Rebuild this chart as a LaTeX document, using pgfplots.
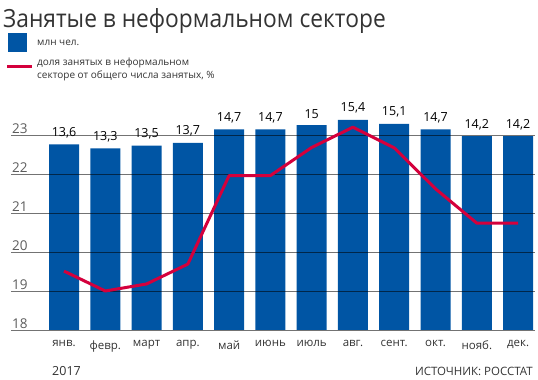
\documentclass[border=0pt]{standalone}
\usepackage{pgfplots}
\pgfplotsset{compat=1.18}
\usepackage{fontspec}
\setmainfont{Open Sans}
\definecolor{barblue}{HTML}{0055A4}
\definecolor{linered}{HTML}{D4003C}
\definecolor{txt}{HTML}{333333}
\begin{document}
\begin{tikzpicture}[x=1pt,y=1pt]
\useasboundingbox (0,0) rectangle (538,380);
% bars
\begin{axis}[
  at={(11pt,50pt)}, anchor=south west,
  scale only axis, width=524pt, height=218.4pt,
  xmin=-1.284, xmax=11.41, ymin=0, ymax=16,
  hide axis, clip=false,
  ybar, bar width=30pt,
  nodes near coords,
  nodes near coords style={font=\fontsize{12.5}{14}\selectfont, text=black, anchor=south, yshift=3pt,
    /pgf/number format/.cd, use comma, assume math mode=true},
]
\addplot[fill=barblue, draw=none] coordinates {
(0,13.6) (1,13.3) (2,13.5) (3,13.7) (4,14.7) (5,14.7)
(6,15) (7,15.4) (8,15.1) (9,14.7) (10,14.2) (11,14.2)};
\end{axis}
% line + grid
\begin{axis}[
  at={(11pt,50pt)}, anchor=south west,
  scale only axis, width=524pt, height=218.4pt,
  xmin=-1.284, xmax=11.41, ymin=18, ymax=23.6,
  axis line style={draw=none}, major tick length=0pt,
  ytick={18,19,20,21,22,23},
  ymajorgrids, grid style={black, opacity=0.55, line width=0.9pt},
  yticklabel style={anchor=south west, inner sep=1pt, xshift=0pt, text=txt!80,
    font=\fontsize{13.5}{15}\selectfont},
  /pgf/number format/assume math mode=true,
  xtick={0,...,11},
  xticklabels={янв.,февр.,март,апр.,май,июнь,июль,авг.,сент.,окт.,нояб.,дек.},
  xticklabel style={font=\fontsize{11.5}{13}\selectfont, text=txt, yshift=-7pt},
  clip=false,
]
\addplot[linered, line width=3pt, line join=round] coordinates {
(0,19.51) (1,19.0) (2,19.18) (3,19.69) (4,21.96) (5,21.96)
(6,22.68) (7,23.2) (8,22.67) (9,21.62) (10,20.74) (11,20.74)};
\end{axis}
% title and legend
\node[anchor=base west, inner sep=0pt, text=txt] at (3,352) {\scalebox{0.91}[1]{\fontsize{25}{28}\selectfont Занятые в неформальном секторе}};
\fill[barblue] (8,328) rectangle (27,347);
\node[anchor=west, inner sep=0pt, text=txt, font=\fontsize{10}{12}\selectfont] at (37,337) {млн чел.};
\draw[linered, line width=3pt] (7,313) -- (32,313);
\node[anchor=north west, inner sep=0pt, text=txt, font=\fontsize{10}{12.5}\selectfont, align=left] at (37,322) {доля занятых в неформальном\\секторе от общего числа занятых, \%};
\node[anchor=base west, inner sep=0pt, text=txt, font=\fontsize{12.5}{14}\selectfont] at (52,5) {2017};
\node[anchor=base east, inner sep=0pt, text=txt, font=\fontsize{11.5}{13}\selectfont] at (533,5) {ИСТОЧНИК: РОССТАТ};
\end{tikzpicture}
\end{document}
